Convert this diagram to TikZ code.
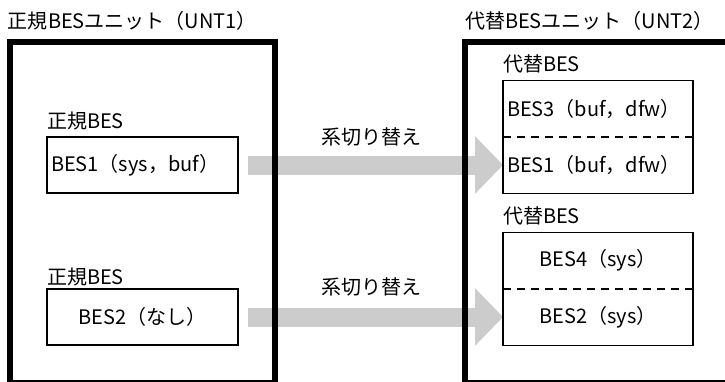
\documentclass[tikz,border=0pt]{standalone}
\usepackage{fontspec}
\setmainfont{Noto Sans CJK JP}
\usetikzlibrary{arrows.meta}
\pgfdeclarelayer{background}
\pgfsetlayers{background,main}
\definecolor{arrowgray}{HTML}{CCCCCC}
\begin{document}
\begin{tikzpicture}[x=1pt,y=-1pt,
  every node/.style={inner sep=0pt,outer sep=0pt,font=\fontsize{20}{24}\selectfont},
  frame/.style={draw,line width=5.5pt,anchor=north west},
  besbox/.style={draw,line width=1.3pt,anchor=north west,minimum width=191pt,minimum height=56pt},
  halfbox/.style={anchor=north west,minimum width=190pt,minimum height=56.5pt},
  lbl/.style={anchor=west},
  bigarrow/.style={draw=arrowgray,line width=19pt,-{Triangle[length=28pt,width=56pt,fill=arrowgray]}},
  sepline/.style={line width=1.3pt,dash pattern=on 8pt off 6pt}
]
\useasboundingbox (0,0) rectangle (725,381);

% titles
\node[lbl] (t1) at (8,21) {正規BESユニット（UNT1）};
\node[lbl] (t2) at (465,21) {代替BESユニット（UNT2）};

% outer frames
\node[frame,minimum width=265pt,minimum height=341pt] (unt1) at (10,42) {};
\node[frame,minimum width=280pt,minimum height=341pt] (unt2) at (465,42) {};

% left side
\node[lbl] (l1) at (47,121) {正規BES};
\node[besbox,text width=183pt,align=left,inner xsep=4pt] (bes1) at (47,137) {BES1（sys，buf）};
\node[lbl] (l2) at (47,277) {正規BES};
\node[besbox] (bes2) at (47,289) {BES2（なし）};

% right side, first alternate
\node[lbl] (r1) at (503,64) {代替BES};
\node[halfbox,text width=182pt,align=left,inner xsep=4pt] (a1top) at (503,80.5) {BES3（buf，dfw）};
\node[halfbox,text width=182pt,align=left,inner xsep=4pt] (a1bot) at (503,137) {BES1（buf，dfw）};
\draw[line width=1.3pt] (a1top.north west) rectangle (a1bot.south east);
\draw[sepline] (a1top.south west) -- (a1top.south east);

% right side, second alternate
\node[lbl] (r2) at (503,216) {代替BES};
\node[halfbox] (a2top) at (503,232.5) {BES4（sys）};
\node[halfbox] (a2bot) at (503,289) {BES2（sys）};
\draw[line width=1.3pt] (a2top.north west) rectangle (a2bot.south east);
\draw[sepline] (a2top.south west) -- (a2top.south east);

% switch labels
\node (s1) at (371,137) {系切り替え};
\node (s2) at (371,287) {系切り替え};

% big arrows behind frames
\begin{pgfonlayer}{background}
\fill[white] (0,0) rectangle (725,381);
\draw[bigarrow] ([xshift=10pt]bes1.east) -- (bes1.east -| a1bot.west);
\draw[bigarrow] ([xshift=10pt]bes2.east) -- (bes2.east -| a2bot.west);
\end{pgfonlayer}
\end{tikzpicture}
\end{document}
